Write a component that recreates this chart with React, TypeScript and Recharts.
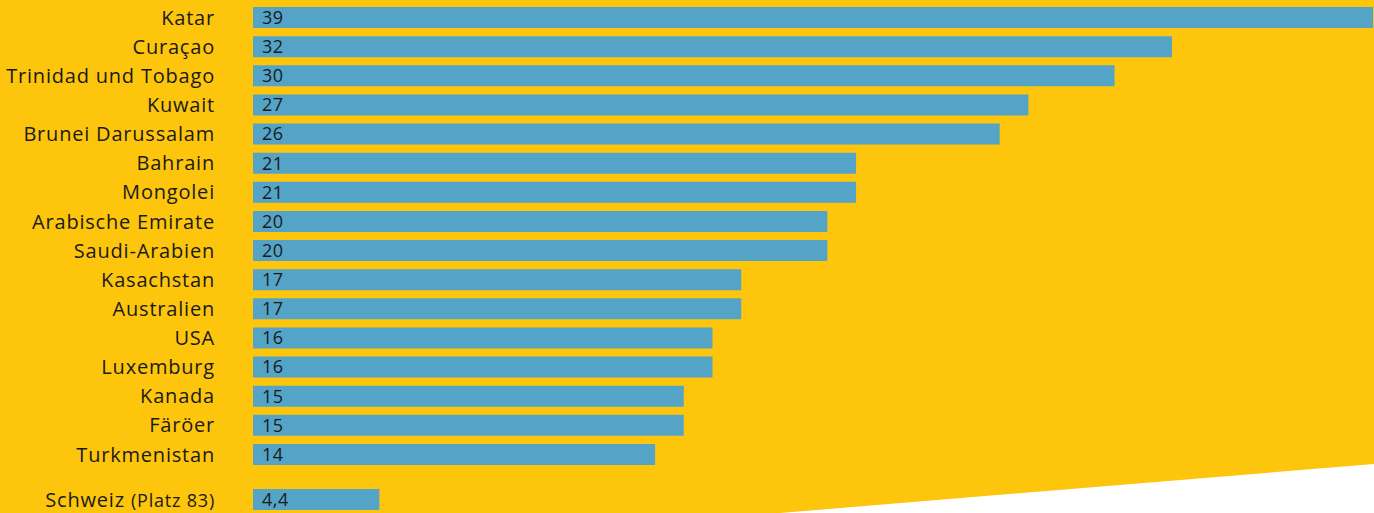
import React from 'react';
import { BarChart, Bar, XAxis, YAxis, LabelList } from 'recharts';

const countries = [
  'Katar',
  'Curaçao',
  'Trinidad und Tobago',
  'Kuwait',
  'Brunei Darussalam',
  'Bahrain',
  'Mongolei',
  'Arabische Emirate',
  'Saudi-Arabien',
  'Kasachstan',
  'Australien',
  'USA',
  'Luxemburg',
  'Kanada',
  'Färöer',
  'Turkmenistan',
];
const emissions = [39, 32, 30, 27, 26, 21, 21, 20, 20, 17, 17, 16, 16, 15, 15, 14];

const swissName = 'Schweiz';
const swissRank = '(Platz 83)';
const swissValue = 4.4;

const YELLOW = '#fdc50c';
const BLUE = '#54a4c8';
const TEXT = '#1a1a1a';
const FONT = '"Open Sans", sans-serif';

const topData = countries.map((name, i) => ({ name, value: emissions[i] }));
const swissData = [{ name: swissName, value: swissValue }];

const fmt = (v: number) => String(v).replace('.', ',');

// Schweiz tick with the smaller "(Platz 83)"
const SwissTick = ({ x, y }: any) => (
  <text x={x} y={y} dy={7} textAnchor="end" fill={TEXT} fontFamily={FONT} letterSpacing={0.8}>
    <tspan fontSize={20}>{swissName} </tspan>
    <tspan fontSize={18}>{swissRank}</tspan>
  </text>
);

const valueLabel = (
  <LabelList
    dataKey="value"
    position="insideLeft"
    offset={9}
    fill={TEXT}
    fontSize={18}
    fontFamily={FONT}
    letterSpacing={0.5}
    formatter={(v: any) => fmt(v)}
  />
);

export default function App() {
  return (
    <div
      style={{
        position: 'absolute',
        left: 0,
        top: 0,
        width: 1374,
        height: 513,
        background: YELLOW,
        overflow: 'hidden',
      }}
    >
      {/* white cut in the lower right corner */}
      <svg width={1374} height={513} style={{ position: 'absolute', left: 0, top: 0 }}>
        <polygon points="780,513 1374,464 1374,513" fill="#ffffff" />
      </svg>

      <div style={{ position: 'absolute', left: 0, top: 0 }}>
        <BarChart
          width={1374}
          height={470}
          data={topData}
          layout="vertical"
          margin={{ top: 3, right: 1, bottom: 1, left: 0 }}
        >
          <XAxis type="number" domain={[0, 39]} hide />
          <YAxis
            type="category"
            dataKey="name"
            width={253}
            axisLine={false}
            tickLine={false}
            tickSize={0}
            tickMargin={38}
            interval={0}
            tick={{ fill: TEXT, fontSize: 20, fontFamily: FONT, letterSpacing: 0.8 }}
          />
          <Bar dataKey="value" fill={BLUE} barSize={21} isAnimationActive={false}>
            {valueLabel}
          </Bar>
        </BarChart>
      </div>

      <div style={{ position: 'absolute', left: 0, top: 484 }}>
        <BarChart
          width={1374}
          height={31}
          data={swissData}
          layout="vertical"
          margin={{ top: 0, right: 1, bottom: 0, left: 0 }}
        >
          <XAxis type="number" domain={[0, 39]} hide />
          <YAxis
            type="category"
            dataKey="name"
            width={253}
            axisLine={false}
            tickLine={false}
            tickSize={0}
            tickMargin={38}
            tick={<SwissTick />}
          />
          <Bar dataKey="value" fill={BLUE} barSize={21} isAnimationActive={false}>
            {valueLabel}
          </Bar>
        </BarChart>
      </div>
    </div>
  );
}
